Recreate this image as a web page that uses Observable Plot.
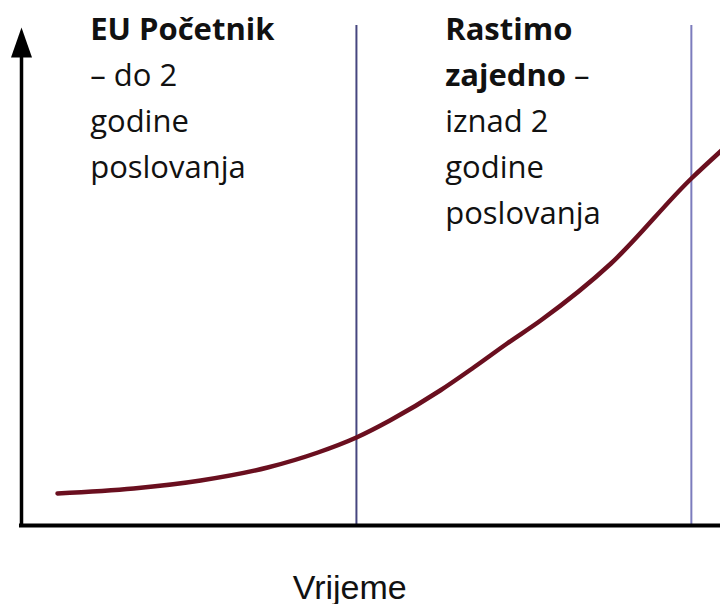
<!DOCTYPE html>
<html>
<head>
<meta charset="utf-8">
<script src="https://cdn.jsdelivr.net/npm/d3@7"></script>
<script src="https://cdn.jsdelivr.net/npm/@observablehq/plot@0.6"></script>
<style>
  html, body { margin: 0; padding: 0; background: #fff; }
  #chart svg { display: block; }
</style>
</head>
<body>
<div id="chart"></div>
<script>
// ---- data ----
const timeX   = [0.215, 0.67, 1.07, 1.47, 1.77, 2.0, 2.2, 2.5, 2.7, 2.9, 3.1, 3.52, 4.0, 4.18];
const growthY = [0.64, 0.74, 0.90, 1.16, 1.46, 1.76, 2.10, 2.70, 3.16, 3.64, 4.10, 5.24, 6.94, 7.50];
const phaseX = [2, 4];
const phaseColors = ["#46467f", "#7c7cbd"];
const leftLines  = ["EU Početnik", "– do 2", "godine", "poslovanja"];
const rightLines = ["Rastimo", "zajedno –", "iznad 2", "godine", "poslovanja"];
const boldLines = ["EU Početnik", "Rastimo"];
const xLabel = "Vrijeme";

const curve = timeX.map((x, i) => ({x, y: growthY[i]}));

// arrow head symbol: tip at anchor point, pointing up
const arrowHead = {
  draw(ctx, size) {
    const s = Math.sqrt(size / Math.PI) / 10;
    ctx.moveTo(0, 0);
    ctx.lineTo(10.5 * s, 30 * s);
    ctx.lineTo(-10.5 * s, 30 * s);
    ctx.closePath();
  }
};

const lineY = (i) => 9.72 - 0.92 * i;
const textFont = "'Open Sans', 'Noto Sans', sans-serif";

const chart = Plot.plot({
  width: 720,
  height: 604,
  margin: 0,
  x: {domain: [0, 4.18], range: [21, 721], axis: null},
  y: {domain: [0, 10], range: [525, 25], axis: null},
  marks: [
    Plot.ruleX(phaseX, {x: d => d, y1: 0, y2: 10, stroke: (d, i) => phaseColors[i], strokeWidth: 2}),
    Plot.line(curve, {x: "x", y: "y", curve: "monotone-x", stroke: "#6a0f1f", strokeWidth: 4.5, strokeLinecap: "round"}),
    Plot.ruleY([0], {x1: -0.012, x2: 4.2, stroke: "#000", strokeWidth: 4}),
    Plot.ruleX([0], {y1: 0, y2: 9.5, stroke: "#000", strokeWidth: 3.5}),
    Plot.dot([0], {x: 0, y: 9.96, symbol: arrowHead, r: 10, fill: "#000", stroke: "none"}),
    Plot.text(leftLines, {x: 0.41, y: (d, i) => lineY(i), text: d => d, textAnchor: "start", lineAnchor: "bottom", fontSize: 31, fontFamily: textFont, fill: "#111"}),
    Plot.text(rightLines, {x: 2.53, y: (d, i) => lineY(i), text: d => d, textAnchor: "start", lineAnchor: "bottom", fontSize: 31, fontFamily: textFont, fill: "#111"}),
    Plot.text([xLabel], {x: 1.96, y: -1.46, text: d => d, textAnchor: "middle", lineAnchor: "bottom", fontSize: 34, fontFamily: "'Liberation Sans', Arial, sans-serif", fill: "#111"})
  ]
});

document.getElementById("chart").appendChild(chart);

// bold parts of labels
chart.querySelectorAll("text").forEach(t => {
  const s = t.textContent;
  if (boldLines.includes(s)) t.setAttribute("font-weight", "bold");
  if (s === "zajedno –") {
    t.textContent = "";
    const ns = "http://www.w3.org/2000/svg";
    const b = document.createElementNS(ns, "tspan");
    b.setAttribute("font-weight", "bold");
    b.textContent = "zajedno";
    const r = document.createElementNS(ns, "tspan");
    r.textContent = " –";
    t.appendChild(b);
    t.appendChild(r);
  }
});
</script>
</body>
</html>
